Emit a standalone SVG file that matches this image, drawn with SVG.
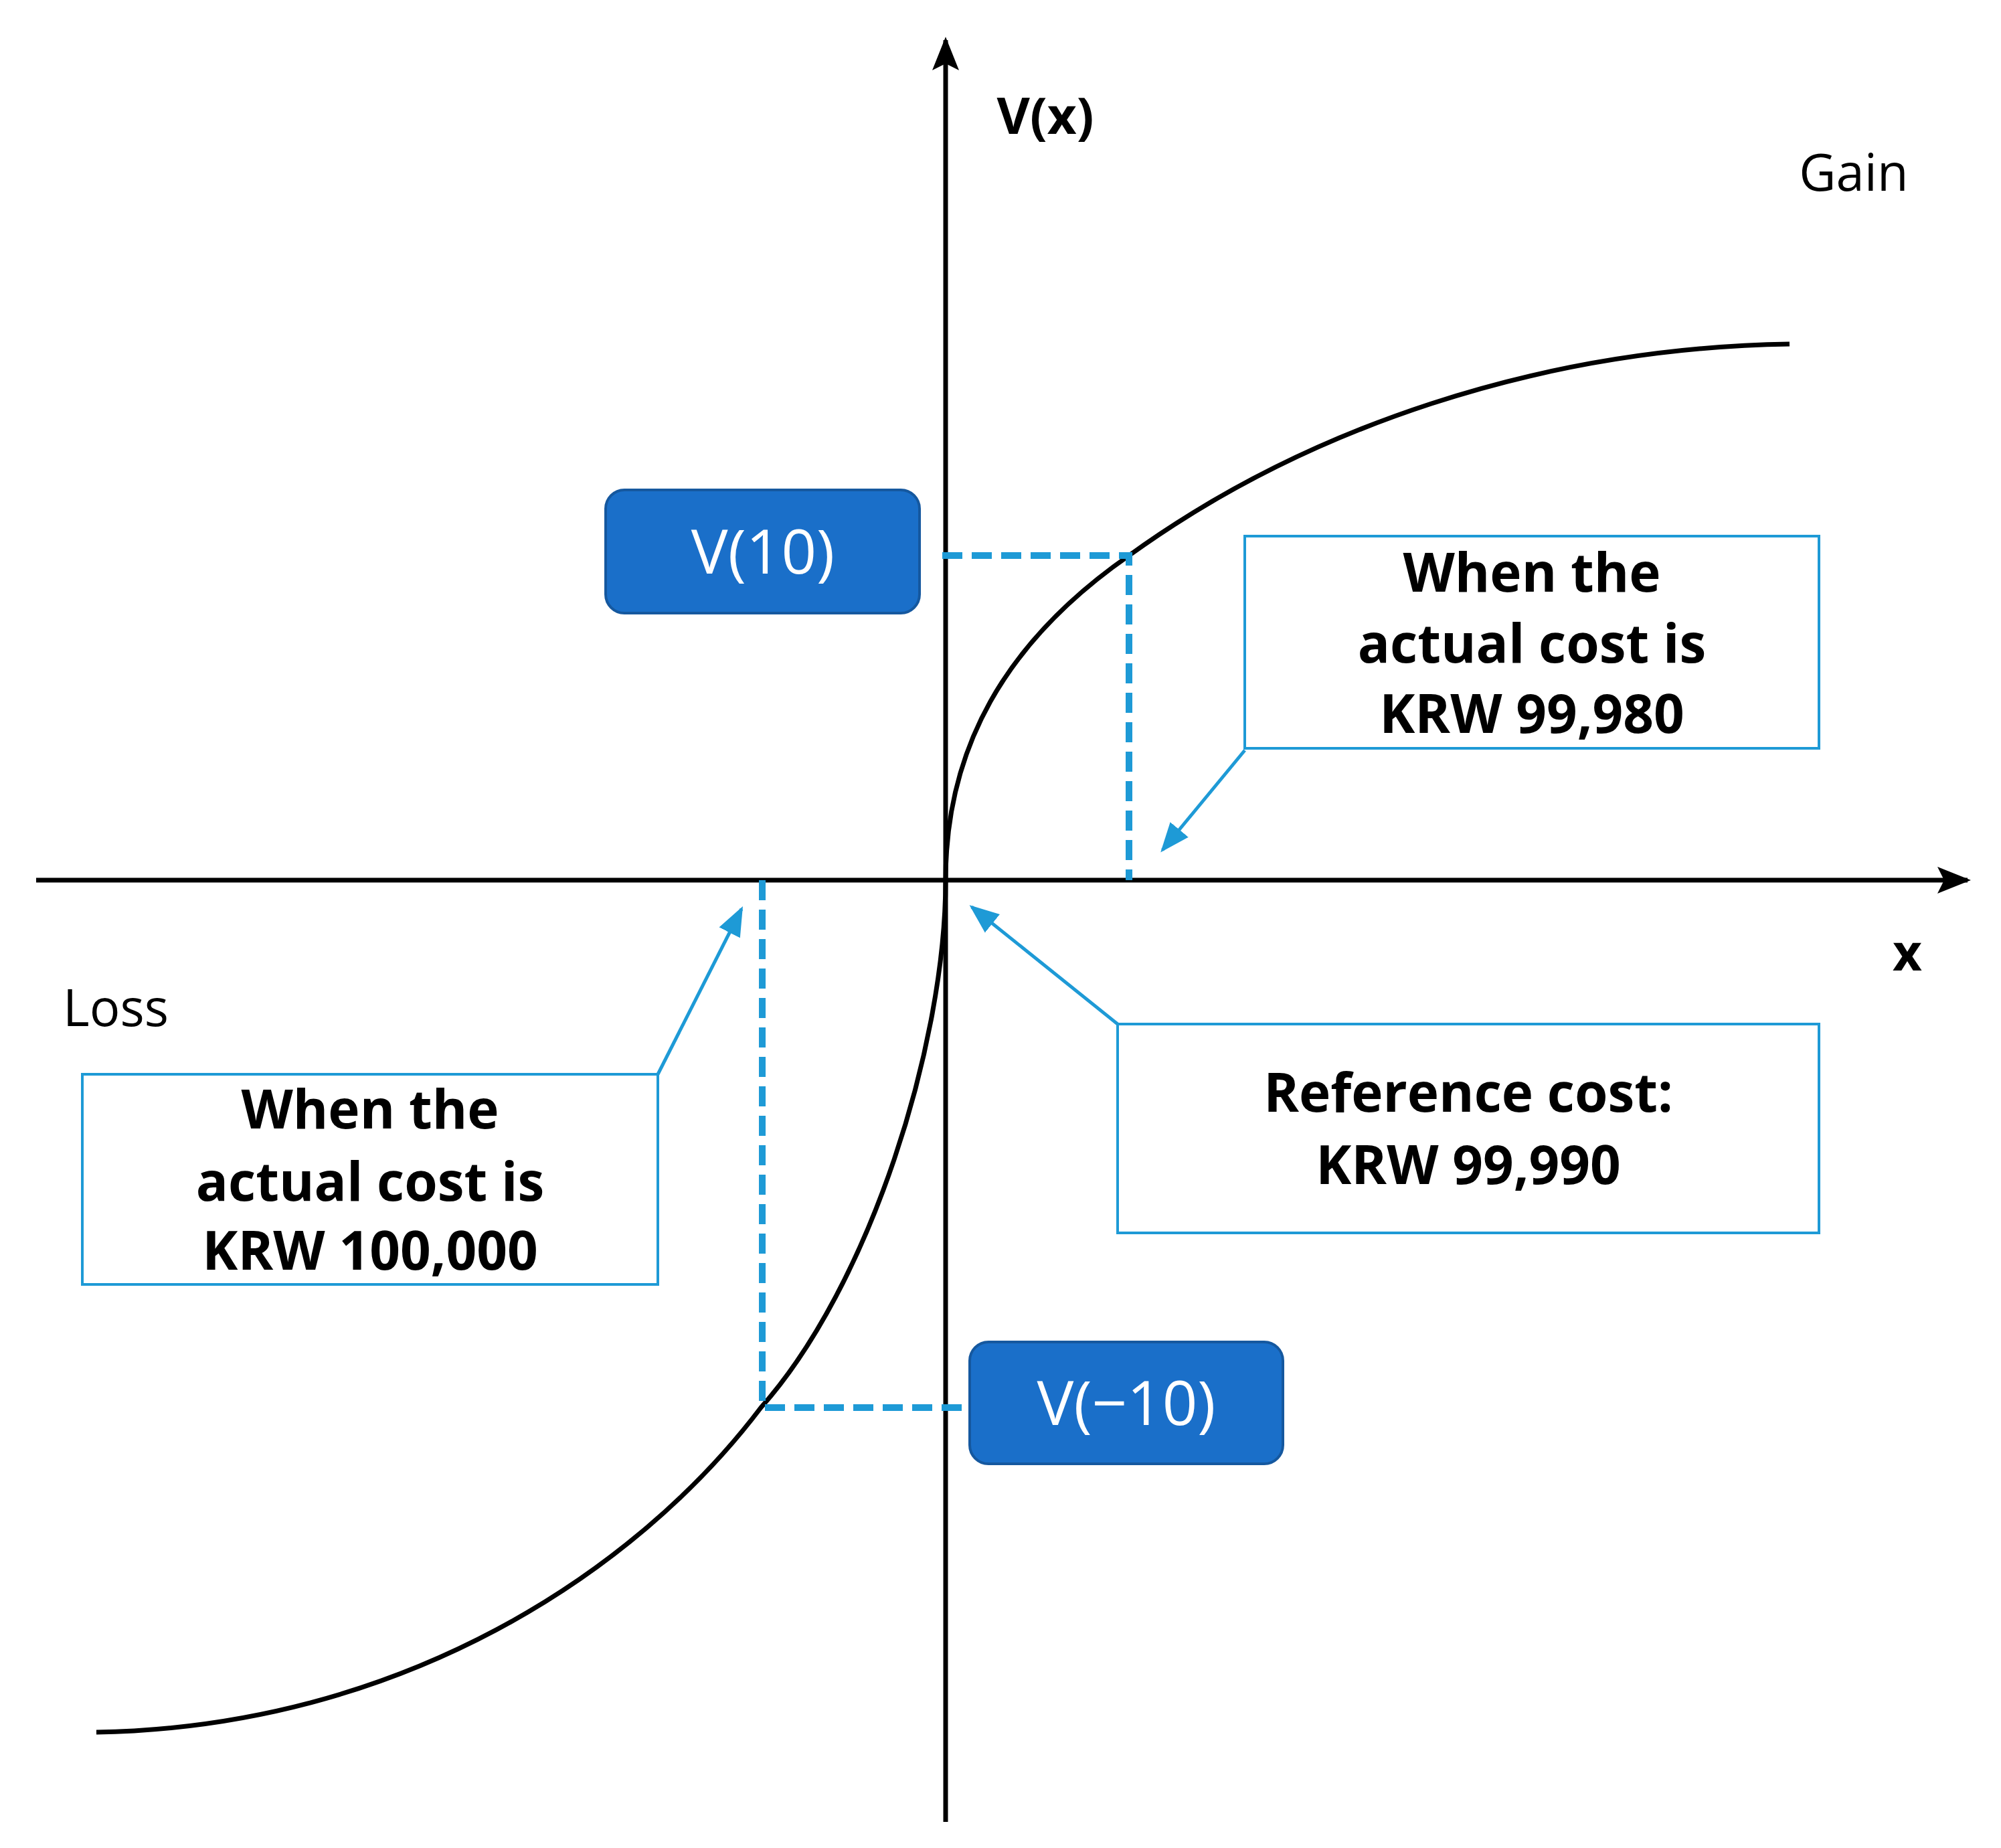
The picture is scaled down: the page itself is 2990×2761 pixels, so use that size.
<svg xmlns="http://www.w3.org/2000/svg" width="2990" height="2761" viewBox="0 0 2990 2761">
<defs>
<style>
.ax{stroke:#000;stroke-width:7;fill:none}
.dash{stroke:#1e9ad6;stroke-width:10;stroke-dasharray:30,14;fill:none}
.lead{stroke:#1e9ad6;stroke-width:5;fill:none}
.box{fill:#fff;stroke:#1e9ad6;stroke-width:4}
.vbox{fill:#1a6fc9;stroke:#15589f;stroke-width:4}
.bt{font-family:"Open Sans","Noto Sans",sans-serif;font-weight:bold;font-size:80px;fill:#000;text-anchor:middle}
.vt{font-family:"Open Sans","Noto Sans",sans-serif;font-size:92px;fill:#fff;text-anchor:middle}
.lab{font-family:"Open Sans","Noto Sans",sans-serif;font-size:76px;fill:#000}
</style>
<marker id="ab" viewBox="0 0 10 10" refX="9" refY="5" markerWidth="44" markerHeight="44" orient="auto" markerUnits="userSpaceOnUse"><path d="M0,1 L10,5 L0,9 z" fill="#1e9ad6"/></marker>
<marker id="ak" viewBox="0 0 10 10" refX="9" refY="5" markerWidth="50" markerHeight="50" orient="auto" markerUnits="userSpaceOnUse"><path d="M0,1 L10,5 L0,9 L2,5 z" fill="#000"/></marker>
</defs>
<rect width="2990" height="2761" fill="#fff"/>
<g id="axes">
<line class="ax" x1="1413" y1="2722" x2="1413" y2="60" marker-end="url(#ak)"/>
<line class="ax" x1="54" y1="1315" x2="2940" y2="1315" marker-end="url(#ak)"/>
<text class="lab" x="1562" y="200" font-weight="bold" font-size="90" text-anchor="middle">V(x)</text>
<text class="lab" x="2850" y="1450" font-weight="bold" font-size="90" text-anchor="middle">x</text>
<text class="lab" x="2770" y="285" text-anchor="middle">Gain</text>
<text class="lab" x="173" y="1533" text-anchor="middle">Loss</text>
</g>
<g id="curve">
<path class="ax" d="M1413,1315 C1413,1120 1500,960 1687,830 C1950,640 2300,520 2674,514"/>
<path class="ax" d="M1413,1315 C1413,1560 1300,1920 1137,2103 C950,2350 600,2580 144,2588"/>
</g>
<g id="connectors">
<path class="dash" d="M1408,830 H1687 V1315"/>
<path class="dash" d="M1139,1315 V2103 H1447"/>
<line class="lead" x1="1860" y1="1121" x2="1737" y2="1270" marker-end="url(#ab)"/>
<line class="lead" x1="1670" y1="1530" x2="1452" y2="1355" marker-end="url(#ab)"/>
<line class="lead" x1="983" y1="1605" x2="1108" y2="1358" marker-end="url(#ab)"/>
</g>
<g id="v10">
<rect class="vbox" x="905" y="732" width="469" height="184" rx="28"/>
<text class="vt" x="1140" y="857">V(10)</text>
</g>
<g id="vm10">
<rect class="vbox" x="1449" y="2005" width="468" height="182" rx="28"/>
<text class="vt" x="1683" y="2129">V(−10)</text>
</g>
<g id="box-gain">
<rect class="box" x="1860" y="801" width="858" height="317"/>
<text class="bt" x="2289" y="884">When the</text>
<text class="bt" x="2289" y="990">actual cost is</text>
<text class="bt" x="2289" y="1095">KRW 99,980</text>
</g>
<g id="box-ref">
<rect class="box" x="1670" y="1530" width="1048" height="312"/>
<text class="bt" x="2194" y="1661">Reference cost:</text>
<text class="bt" x="2194" y="1769">KRW 99,990</text>
</g>
<g id="box-loss">
<rect class="box" x="123" y="1605" width="860" height="314"/>
<text class="bt" x="553" y="1686">When the</text>
<text class="bt" x="553" y="1794">actual cost is</text>
<text class="bt" x="553" y="1897">KRW 100,000</text>
</g>
</svg>
